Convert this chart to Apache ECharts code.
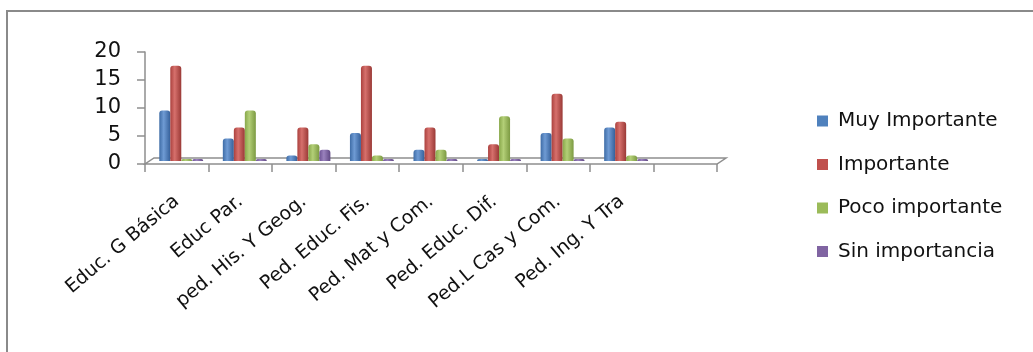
<!DOCTYPE html>
<html>
<head>
<meta charset="utf-8">
<script src="https://cdn.jsdelivr.net/npm/echarts@6/dist/echarts.min.js"></script>
<style>
  html, body { margin: 0; padding: 0; background: #fff; }
  #chart { width: 1033px; height: 352px; }
</style>
</head>
<body>
<div id="chart"></div>
<script>
// Categories (last slot is an empty placeholder on the axis)
const categories = [
  'Educ. G Básica', 'Educ Par.', 'ped. His. Y Geog.', 'Ped. Educ. Fis.',
  'Ped. Mat y Com.', 'Ped. Educ. Dif.', 'Ped.L Cas y Com.', 'Ped. Ing. Y Tra', ''
];

// Series values
const muyImportante   = [9, 4, 1, 5, 2, 0, 5, 6];
const importante      = [17, 6, 6, 17, 6, 3, 12, 7];
const pocoImportante  = [0, 9, 3, 1, 2, 8, 4, 1];
const sinImportancia  = [0, 0, 2, 0, 0, 0, 0, 0];

const seriesNames = ['Muy Importante', 'Importante', 'Poco importante', 'Sin importancia'];
const yTicks = { min: 0, max: 20, interval: 5 };

// Base colours and cylinder shading (dark edge, light core, dark edge)
const baseColors = ['#4F81BD', '#C0504D', '#9BBB59', '#8064A2'];
const shades = [
  ['#3e6ca6', '#6f9bd4', '#35609a'],
  ['#ab413e', '#d6706c', '#9a3936'],
  ['#88a84a', '#b3cf77', '#7c9a42'],
  ['#6d5294', '#9a82bd', '#604884']
];

// Plot geometry: front axis frame and the floor depth offset
const W = 1033, H = 352;
const plot = { left: 145, right: 717, top: 52, bottom: 164 };
const depth = { dx: 9, dy: -6 };

const axisGray = '#8e8e8e';
const font = 'DejaVu Sans';

function cylinder(i) {
  const s = shades[i];
  return new echarts.graphic.LinearGradient(0, 0, 1, 0, [
    { offset: 0, color: s[0] },
    { offset: 0.4, color: s[1] },
    { offset: 1, color: s[2] }
  ]);
}

const dataSets = [muyImportante, importante, pocoImportante, sinImportancia];

const chart = echarts.init(document.getElementById('chart'), null, { renderer: 'canvas' });

const option = {
  backgroundColor: '#fff',
  animation: false,
  grid: [
    {
      // front frame carrying the visible axes
      left: plot.left, right: W - plot.right, top: plot.top, bottom: H - plot.bottom,
      outerBoundsMode: 'none', containLabel: false
    },
    {
      // bars stand halfway into the floor depth
      left: plot.left + depth.dx / 2, right: W - plot.right - depth.dx / 2,
      top: plot.top + depth.dy / 2, bottom: H - plot.bottom - depth.dy / 2,
      outerBoundsMode: 'none', containLabel: false
    }
  ],
  xAxis: [
    {
      type: 'category', gridIndex: 0, data: categories,
      axisLine: { show: false },
      axisTick: { show: true, length: 8, lineStyle: { color: axisGray, width: 1.5 } },
      axisLabel: {
        interval: 0, rotate: 40, margin: 35,
        fontFamily: font, fontSize: 19, color: '#111'
      },
      splitLine: { show: false }
    },
    {
      type: 'category', gridIndex: 1, data: categories, show: false
    }
  ],
  yAxis: [
    {
      type: 'value', gridIndex: 0,
      min: yTicks.min, max: yTicks.max, interval: yTicks.interval,
      axisLine: { show: true, lineStyle: { color: axisGray, width: 1.5 } },
      axisTick: { show: true, length: 8, lineStyle: { color: axisGray, width: 1.5 } },
      axisLabel: { margin: 24, fontFamily: font, fontSize: 21, color: '#111' },
      splitLine: { show: false }
    },
    {
      type: 'value', gridIndex: 1,
      min: yTicks.min, max: yTicks.max, interval: yTicks.interval, show: false
    }
  ],
  legend: {
    orient: 'vertical',
    left: 812, top: 106,
    icon: 'rect', itemWidth: 11, itemHeight: 11, itemGap: 23.5,
    textStyle: { fontFamily: font, fontSize: 20, color: '#111', padding: [0, 0, 0, 5] },
    data: seriesNames.map((n, i) => ({ name: n, itemStyle: { color: baseColors[i] } }))
  },
  graphic: [
    {
      // outer frame
      type: 'rect', z: 0,
      shape: { x: 7, y: 11, width: 1100, height: 500 },
      style: { fill: 'none', stroke: '#8a8a8a', lineWidth: 2 }
    },
    {
      // floor
      type: 'polygon', z: 1,
      shape: {
        points: [
          [plot.left, plot.bottom],
          [plot.right, plot.bottom],
          [plot.right + depth.dx, plot.bottom + depth.dy],
          [plot.left + depth.dx, plot.bottom + depth.dy]
        ]
      },
      style: { fill: '#fff', stroke: axisGray, lineWidth: 1.5 }
    }
  ],
  series: dataSets.map((d, i) => ({
    name: seriesNames[i],
    type: 'bar',
    xAxisIndex: 1, yAxisIndex: 1,
    data: d,
    barWidth: 11,
    barGap: '0%',
    barMinHeight: 2,
    z: 3,
    itemStyle: { color: cylinder(i), borderRadius: [3, 3, 0, 0] }
  }))
};

chart.setOption(option);
</script>
</body>
</html>
